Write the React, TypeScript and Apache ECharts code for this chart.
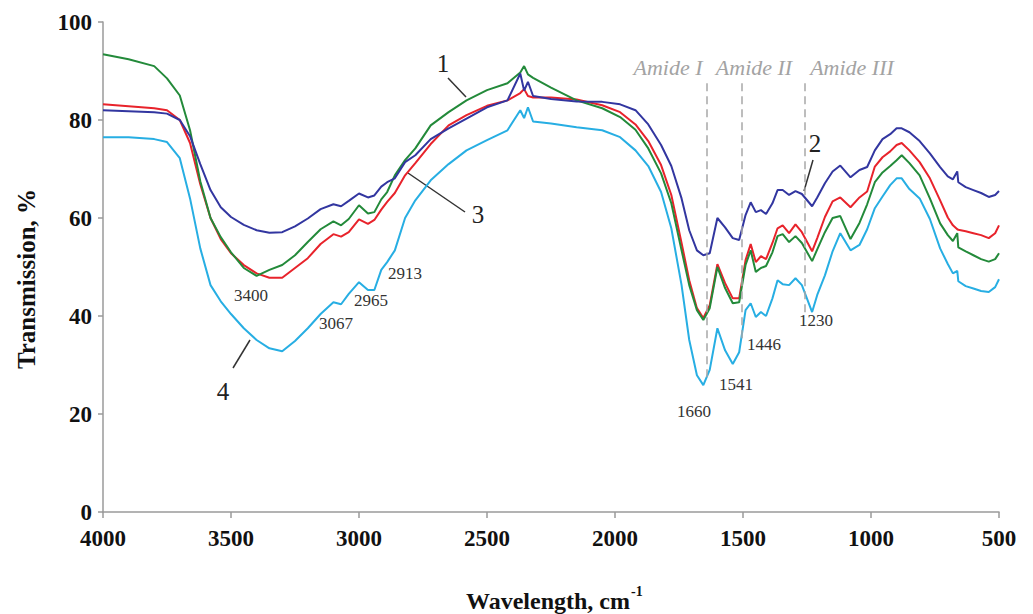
import React, { useEffect, useRef } from "react";
import * as echarts from "echarts";

// Wavenumber grid (cm-1), shared by all four spectra
const wavenumbers = [
  4000, 3900, 3800, 3750, 3700, 3660, 3620, 3580, 3540, 3500,
  3450, 3400, 3350, 3300, 3250, 3200, 3150, 3100, 3070, 3040,
  3000, 2965, 2940, 2913, 2890, 2860, 2820, 2780, 2720, 2650,
  2580, 2500, 2420, 2370, 2355, 2340, 2320, 2250, 2150, 2050,
  1980, 1920, 1870, 1820, 1780, 1740, 1710, 1680, 1655, 1630,
  1600, 1570, 1540, 1515, 1490, 1470, 1450, 1430, 1410, 1385,
  1365, 1345, 1320, 1295, 1270, 1230, 1210, 1180, 1150, 1120,
  1080, 1045, 1015, 985, 955, 925, 900, 880, 850, 810,
  770, 730, 700, 680, 663, 659, 630, 600, 570, 540,
  515, 500,
];

// Curve 1 (green)
const curve1 = [
  93.4, 92.4, 91.0, 88.5, 85.0, 77.9, 67.5, 60.0, 56.1, 53.0,
  49.8, 48.2, 49.4, 50.4, 52.4, 55.1, 57.7, 59.3, 58.5, 59.8,
  62.6, 60.9, 61.2, 63.8, 65.3, 68.7, 71.8, 74.2, 78.9, 81.6,
  84.0, 86.1, 87.5, 89.7, 91.0, 89.3, 88.6, 86.6, 84.0, 82.4,
  80.6, 78.0, 74.2, 69.1, 63.0, 53.4, 46.3, 41.2, 39.2, 41.6,
  50.0, 45.7, 42.6, 42.8, 50.4, 53.4, 49.0, 49.8, 50.2, 53.0,
  56.3, 56.7, 55.1, 56.3, 54.9, 51.2, 53.6, 57.1, 60.0, 60.4,
  55.7, 59.0, 62.8, 67.3, 69.3, 70.6, 71.8, 72.8, 71.2, 68.7,
  64.0, 58.9, 56.5, 55.3, 56.9, 54.0, 53.2, 52.4, 51.6, 51.1,
  51.6, 52.8,
];

// Curve 2 (dark blue)
const curve2 = [
  82.0, 81.8, 81.6, 81.3, 80.0, 76.7, 71.0, 65.7, 62.2, 60.2,
  58.6, 57.5, 57.0, 57.1, 58.3, 59.9, 61.8, 62.8, 62.4, 63.5,
  65.0, 64.2, 64.6, 66.4, 67.3, 68.1, 71.4, 72.8, 76.1, 78.3,
  80.3, 82.6, 84.0, 89.5, 86.0, 87.8, 84.9, 84.3, 83.8, 83.7,
  83.2, 82.0, 79.1, 74.9, 70.6, 64.0, 57.5, 53.4, 52.4, 52.8,
  60.0, 58.1, 55.9, 55.5, 60.6, 63.2, 61.2, 61.6, 60.8, 63.0,
  65.7, 65.7, 64.7, 65.5, 64.9, 62.4, 64.2, 67.1, 69.5, 70.7,
  68.3, 69.8, 70.4, 73.8, 76.1, 77.1, 78.3, 78.3, 77.5, 75.7,
  73.2, 70.4, 68.5, 67.9, 69.5, 67.3, 66.3, 65.7, 65.1, 64.3,
  64.7, 65.5,
];

// Curve 3 (red)
const curve3 = [
  83.2, 82.8, 82.4, 82.0, 80.0, 75.3, 66.9, 60.0, 55.7, 52.8,
  50.4, 48.7, 47.8, 47.8, 49.8, 51.8, 54.7, 56.7, 56.2, 57.1,
  59.7, 58.8, 59.6, 61.7, 63.3, 65.1, 68.7, 71.2, 75.1, 78.9,
  81.0, 82.9, 84.0, 85.5, 86.3, 84.9, 84.6, 84.6, 84.2, 83.0,
  81.6, 79.1, 75.7, 70.8, 64.7, 54.9, 47.3, 41.6, 39.6, 42.2,
  50.6, 46.7, 43.6, 43.6, 51.4, 54.7, 51.0, 52.2, 51.6, 54.9,
  57.9, 58.5, 56.9, 58.7, 57.1, 53.2, 55.9, 60.2, 63.4, 64.2,
  62.2, 64.2, 65.4, 70.5, 72.4, 73.6, 74.9, 75.3, 73.8, 71.4,
  68.1, 63.6, 60.1, 58.5, 57.7, 57.6, 57.3, 56.9, 56.5, 55.9,
  56.9, 58.5,
];

// Curve 4 (light blue)
const curve4 = [
  76.5, 76.5, 76.1, 75.5, 72.2, 64.0, 53.8, 46.3, 43.0, 40.4,
  37.5, 35.1, 33.4, 32.8, 34.9, 37.5, 40.4, 42.8, 42.4, 44.5,
  46.9, 45.3, 45.3, 49.4, 51.0, 53.4, 60.0, 63.6, 67.7, 71.0,
  73.8, 75.9, 77.9, 82.0, 80.4, 82.6, 79.7, 79.3, 78.5, 77.9,
  76.5, 73.8, 70.6, 65.3, 57.9, 46.3, 35.1, 27.9, 25.9, 29.0,
  37.5, 33.0, 30.2, 32.6, 41.2, 42.6, 39.8, 40.8, 40.0, 43.6,
  47.3, 46.5, 46.3, 47.7, 46.3, 40.8, 44.3, 48.3, 53.2, 56.9,
  53.4, 54.5, 57.7, 62.0, 64.4, 66.7, 68.1, 68.1, 65.9, 64.0,
  59.8, 53.8, 50.6, 48.7, 49.2, 47.1, 46.1, 45.6, 45.1, 44.9,
  45.9, 47.5,
];

// Amide band marker lines (wavenumber, lower end of dashed line)
const amideWavenumbers = [1642, 1504, 1258];
const amideLineBottoms = [27, 34.5, 40.6];
const amideLineTop = 87.5;
const amideNames = ["Amide I", "Amide II", "Amide III"];

const peakLabels = ["3400", "3067", "2965", "2913", "1660", "1541", "1446", "1230"];
const curveNames = ["1", "2", "3", "4"];

const FONT = '"Liberation Serif", "Times New Roman", serif';

export default function App() {
  const ref = useRef<HTMLDivElement>(null);

  useEffect(() => {
    if (!ref.current) return;
    const chart = echarts.init(ref.current, null, { renderer: "svg" });

    const mk = (vals: number[]) => wavenumbers.map((w, i) => [w, vals[i]]);

    const peakPos: [number, number][] = [
      [251, 295], [336, 323], [371, 300], [405, 273],
      [694, 411], [736, 384], [764, 344], [816, 320],
    ];
    const namePos: [number, number][] = [
      [443, 63], [815, 143], [478, 214], [223, 391],
    ];
    const leaders: [number, number, number, number][] = [
      [448, 78, 466, 97],
      [813, 160, 804, 191],
      [408, 173, 465, 212],
      [250, 340, 233, 368],
    ];
    const amidePos: [number, number][] = [[668, 67], [754, 67], [852, 67]];

    const graphic: any[] = [];
    peakLabels.forEach((t, i) => {
      graphic.push({
        type: "text", x: peakPos[i][0], y: peakPos[i][1], silent: true,
        style: { text: t, font: `17px ${FONT}`, fill: "#333",
          align: "center", verticalAlign: "middle",
          textAlign: "center", textVerticalAlign: "middle" },
      });
    });
    curveNames.forEach((t, i) => {
      graphic.push({
        type: "text", x: namePos[i][0], y: namePos[i][1], silent: true,
        style: { text: t, font: `25px ${FONT}`, fill: "#222",
          align: "center", verticalAlign: "middle",
          textAlign: "center", textVerticalAlign: "middle" },
      });
    });
    leaders.forEach((l) => {
      graphic.push({
        type: "line", silent: true,
        shape: { x1: l[0], y1: l[1], x2: l[2], y2: l[3] },
        style: { stroke: "#333", lineWidth: 1.5 },
      });
    });
    amideNames.forEach((t, i) => {
      graphic.push({
        type: "text", x: amidePos[i][0], y: amidePos[i][1], silent: true,
        style: { text: t, font: `italic 22px ${FONT}`, fill: "#a3a3a3",
          align: "center", verticalAlign: "middle",
          textAlign: "center", textVerticalAlign: "middle" },
      });
    });
    // Axis titles
    graphic.push({
      type: "text", x: 26, y: 279, rotation: Math.PI / 2, silent: true,
      style: { text: "Transmission, %", font: `bold 25px ${FONT}`, fill: "#111",
        align: "center", verticalAlign: "middle",
        textAlign: "center", textVerticalAlign: "middle" },
    });
    graphic.push({
      type: "text", x: 466, y: 601, silent: true,
      style: { text: "Wavelength, cm", font: `bold 24px ${FONT}`, fill: "#111",
        align: "left", verticalAlign: "middle",
        textAlign: "left", textVerticalAlign: "middle" },
    });
    graphic.push({
      type: "text", x: 631, y: 591, silent: true,
      style: { text: "-1", font: `bold 14px ${FONT}`, fill: "#111",
        align: "left", verticalAlign: "middle",
        textAlign: "left", textVerticalAlign: "middle" },
    });

    const lineSeries = (name: string, vals: number[], color: string, extra: any = {}) => ({
      name, type: "line", data: mk(vals), showSymbol: false, symbol: "none",
      lineStyle: { color, width: 2 }, itemStyle: { color },
      silent: true, ...extra,
    });

    chart.setOption({
      animation: false,
      backgroundColor: "#ffffff",
      grid: { left: 103, right: 34, top: 22, bottom: 102, containLabel: false },
      xAxis: {
        type: "value", min: 500, max: 4000, interval: 500, inverse: true,
        axisLine: { show: true, lineStyle: { color: "#9a9a9a", width: 1.5 } },
        axisTick: { show: true, length: 6, lineStyle: { color: "#9a9a9a", width: 1.5 } },
        axisLabel: {
          fontFamily: FONT, fontWeight: "bold", fontSize: 23, color: "#111", margin: 15,
          formatter: (v: number) => String(v),
        },
        splitLine: { show: false },
      },
      yAxis: {
        type: "value", min: 0, max: 100, interval: 20,
        axisLine: { show: true, lineStyle: { color: "#9a9a9a", width: 1.5 } },
        axisTick: { show: true, length: 5, lineStyle: { color: "#9a9a9a", width: 1.5 } },
        axisLabel: {
          fontFamily: FONT, fontWeight: "bold", fontSize: 23, color: "#111", margin: 11,
          formatter: (v: number) => String(v),
        },
        splitLine: { show: false },
      },
      graphic,
      series: [
        lineSeries("4", curve4, "#27aee3", {
          markLine: {
            silent: true, symbol: ["none", "none"], label: { show: false },
            lineStyle: { type: [8, 5], color: "#a8a8a8", width: 1.5 },
            data: amideWavenumbers.map((w, i) => [
              { coord: [w, amideLineTop] },
              { coord: [w, amideLineBottoms[i]] },
            ]),
          },
        }),
        lineSeries("3", curve3, "#e8232b"),
        lineSeries("1", curve1, "#238a3a"),
        lineSeries("2", curve2, "#3236a0"),
      ],
    });

    return () => chart.dispose();
  }, []);

  return (
    <div
      ref={ref}
      style={{ position: "absolute", left: 0, top: 0, width: 1033, height: 614, background: "#fff" }}
    />
  );
}
